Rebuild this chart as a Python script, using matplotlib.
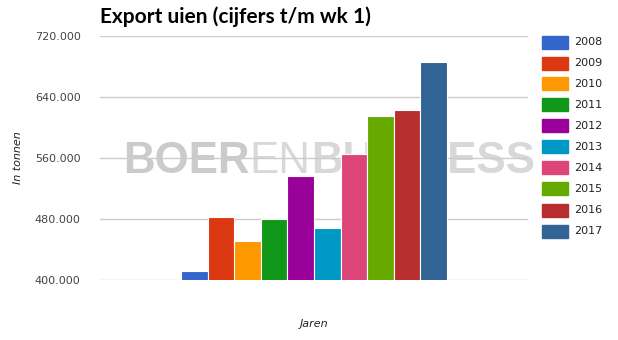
import matplotlib as mpl
mpl.use('Agg')
from matplotlib import pyplot as plt
from matplotlib.patches import Rectangle
import numpy as np

# data (tonnes, export up to week 1)
years = ['2008', '2009', '2010', '2011', '2012', '2013', '2014', '2015', '2016', '2017']
export = [412000, 482500, 451000, 480000, 536000, 468000, 565000, 615000, 623000, 686000]
colors = ['#3366cc', '#dc3912', '#ff9900', '#109618', '#990099',
          '#0099c6', '#dd4477', '#66aa00', '#b82e2e', '#316395']
yticks = [400000, 480000, 560000, 640000, 720000]
ytick_labels = ['400.000', '480.000', '560.000', '640.000', '720.000']

W, H = 618, 340
fig = plt.figure(figsize=(W / 100, H / 100), dpi=100)
ax = fig.add_axes([100 / W, 60 / H, 428 / W, 244 / H])

# one category, ten bars side by side
x = np.arange(len(years))
ax.bar(x, export, width=1.0, color=colors, edgecolor='white', linewidth=0.8, zorder=2)

ax.set_ylim(400000, 720000)
ax.set_xlim(4.5 - 8.05, 4.5 + 8.05)
ax.set_yticks(yticks)
ax.set_yticklabels(ytick_labels, fontsize=8, color='#444444')
ax.set_xticks([])
ax.tick_params(axis='y', length=0, pad=14)
ax.grid(axis='y', color='#cccccc', linewidth=1, zorder=1)
ax.set_axisbelow(True)
for s in ax.spines.values():
    s.set_visible(False)

# watermark behind grid
fig.canvas.draw()
r = fig.canvas.get_renderer()
xpos = 123 / W
for txt, col, wt in [('BOER', '#cbcbcb', 'bold'), ('EN', '#d8d8d8', 'normal'),
                     ('BUSINESS', '#d8d8d8', 'bold')]:
    t = ax.text(xpos, 1 - 173 / H, txt, transform=fig.transFigure, fontsize=31.6,
                family='Liberation Sans', weight=wt, color=col, va='baseline',
                ha='left', zorder=0.1, clip_on=False)
    bb = t.get_window_extent(renderer=r)
    xpos = bb.x1 / W

fig.text(100 / W, 1 - 17 / H, 'Export uien (cijfers t/m wk 1)', fontsize=15,
         weight='bold', family='Lato', color='black', va='center', ha='left')
fig.text(18 / W, 1 - 158 / H, 'In tonnen', fontsize=8, style='italic',
         color='#222222', rotation=90, va='center', ha='center')
fig.text(314 / W, 1 - 324 / H, 'Jaren', fontsize=8, style='italic',
         color='#222222', va='center', ha='center')

# legend
for i, (yr, c) in enumerate(zip(years, colors)):
    yc = 42 + i * 21
    fig.patches.append(Rectangle((542 / W, 1 - (yc + 6.5) / H), 26 / W, 13 / H,
                                 transform=fig.transFigure, color=c))
    fig.text(574 / W, 1 - yc / H, yr, fontsize=8, color='#222222',
             va='center', ha='left')

plt.savefig('out.png', dpi=100)
plt.close()
